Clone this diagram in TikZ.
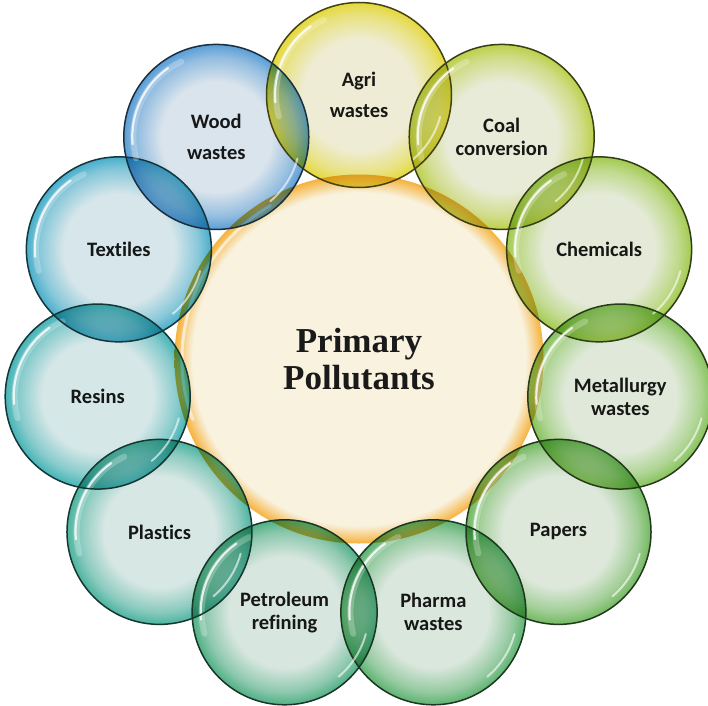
\documentclass[tikz,border=0pt]{standalone}
\usepackage{fontspec}
\setmainfont{Liberation Serif}
\newfontfamily\labelfont[Ligatures=NoCommon]{Carlito}

\definecolor{ink}{HTML}{1A1A1A}
\definecolor{hubrim}{HTML}{F6B23C}
\definecolor{hubpale}{HTML}{F8F2DF}
\definecolor{agricol}{HTML}{E4D93C}
\definecolor{coalcol}{HTML}{BDD04A}
\definecolor{chemcol}{HTML}{A2CB4E}
\definecolor{metalcol}{HTML}{86C35A}
\definecolor{papercol}{HTML}{72B960}
\definecolor{pharmacol}{HTML}{5DB370}
\definecolor{petrolcol}{HTML}{50B085}
\definecolor{plastcol}{HTML}{4CB4A0}
\definecolor{resincol}{HTML}{45B4B6}
\definecolor{textilecol}{HTML}{48AFCB}
\definecolor{woodcol}{HTML}{5A9ED6}

% pale middle, coloured rim
\pgfdeclareradialshading[rim,pale]{bubble}{\pgfpointorigin}{%
    color(0bp)=(pale); color(15bp)=(pale); color(21.5bp)=(rim!55!pale); color(25bp)=(rim); color(50bp)=(rim)}
\pgfdeclareradialshading[rim,pale]{hubshade}{\pgfpointorigin}{%
    color(0bp)=(pale); color(22.6bp)=(pale); color(25bp)=(rim); color(50bp)=(rim)}

% name / colour / label, clockwise from the top
\newcommand\sourcelist{
    agri/agricol/{Agri\\[8pt]wastes},
    coal/coalcol/{Coal\\conversion},
    chem/chemcol/{Chemicals},
    metal/metalcol/{Metallurgy\\wastes},
    paper/papercol/{Papers},
    pharma/pharmacol/{Pharma\\wastes},
    petrol/petrolcol/{Petroleum\\refining},
    plast/plastcol/{Plastics},
    resin/resincol/{Resins},
    textile/textilecol/{Textiles},
    wood/woodcol/{Wood\\[8pt]wastes}}

\begin{document}
\begin{tikzpicture}[
                x=1pt, y=1pt,
                every node/.style={circle, draw=none, inner sep=0pt, align=center, text=ink},
                bubble/.style={minimum size=185pt, shading=bubble,
                    font=\labelfont\bfseries\fontsize{20.5}{23}\selectfont},
                hub/.style={minimum size=369pt, shading=hubshade,
                    font=\bfseries\fontsize{35}{37}\selectfont},
                rimline/.style={line width=1.5pt},
                shine/.style={white, line cap=round}
            ]
                \useasboundingbox (-359,-346) rectangle (349,359);

                % Central circle
                \colorlet{rim}{hubrim}
                \colorlet{pale}{hubpale}
                \node[hub] (hub) at (0,0) {Primary\\Pollutants};
                \draw[shine, line width=3pt, opacity=0.6] (hub.center) ++(120:177) arc[start angle=120, end angle=200, radius=177];

                % Ring of sources (11 bubbles)
                \begin{scope}[blend mode=multiply]
                    \foreach \name/\col/\txt [count=\k] in \sourcelist {
                        \colorlet{rim}{\col}
                        \colorlet{pale}{\col!16!white!95!black}
                        \node[bubble] (\name) at ({90-(\k-1)*360/11}:264) {\txt};
                    }
                \end{scope}

                % Outlines and glossy streaks on top
                \foreach \name/\col/\txt in \sourcelist {
                    \draw[rimline, \col!30!black] (\name.center) circle[radius=92.5];
                    \draw[shine, line width=6pt, opacity=0.25] (\name.center) ++(115:83) arc[start angle=115, end angle=195, radius=83];
                    \draw[shine, line width=2.2pt, opacity=0.8] (\name.center) ++(125:84) arc[start angle=125, end angle=185, radius=84];
                    \draw[shine, line width=2pt, opacity=0.6] (\name.center) ++(-50:84) arc[start angle=-50, end angle=-15, radius=84];
                }
            \end{tikzpicture}
\end{document}
